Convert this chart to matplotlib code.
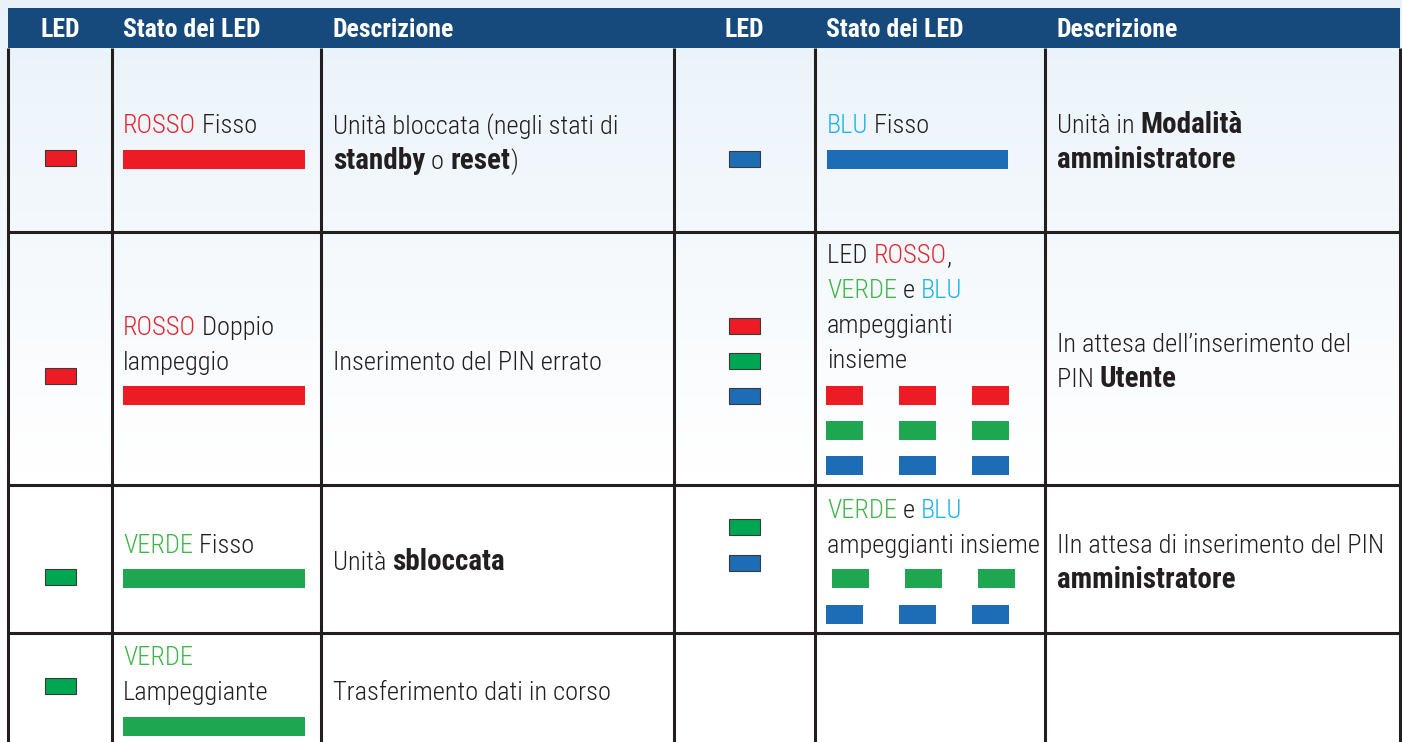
import matplotlib
matplotlib.use("Agg")
import matplotlib.pyplot as plt
from matplotlib import font_manager as fm
from matplotlib.patches import Rectangle
import numpy as np

# ---------------------------------------------------------------------------
# Colours
# ---------------------------------------------------------------------------
RED = "#ed1c24"
GREEN_LED = "#00a651"
GREEN_BAR = "#1fa650"
BLUE = "#1c6db5"
T_RED = "#e2262e"
T_GREEN = "#3fb54a"
T_BLUE = "#1ab3ec"
DARK = "#231f20"
HEADER = "#174a7c"

_names = {f.name for f in fm.fontManager.ttflist}
FONT = next((n for n in ["Roboto Condensed", "Archivo Narrow", "Barlow Condensed",
                         "Liberation Sans Narrow"] if n in _names), "DejaVu Sans")

# ---------------------------------------------------------------------------
# Table content
# ---------------------------------------------------------------------------
HEADERS = ["LED", "Stato dei LED", "Descrizione"]

# LED indicators per row (left table, right table)
LEFT_LEDS = [[RED], [RED], [GREEN_LED], [GREEN_LED]]
RIGHT_LEDS = [[BLUE], [RED, GREEN_LED, BLUE], [GREEN_LED, BLUE], []]

# state text: lines of (text, colour, weight)
LEFT_STATE = [
    [[("ROSSO", T_RED, "light"), (" Fisso", DARK, "light")]],
    [[("ROSSO", T_RED, "light"), (" Doppio", DARK, "light")],
     [("lampeggio", DARK, "light")]],
    [[("VERDE", T_GREEN, "light"), (" Fisso", DARK, "light")]],
    [[("VERDE", T_GREEN, "light")], [("Lampeggiante", DARK, "light")]],
]
RIGHT_STATE = [
    [[("BLU", T_BLUE, "light"), (" Fisso", DARK, "light")]],
    [[("LED ", DARK, "light"), ("ROSSO", T_RED, "light"), (",", DARK, "light")],
     [("VERDE", T_GREEN, "light"), (" e ", DARK, "light"), ("BLU", T_BLUE, "light")],
     [("ampeggianti", DARK, "light")],
     [("insieme", DARK, "light")]],
    [[("VERDE", T_GREEN, "light"), (" e ", DARK, "light"), ("BLU", T_BLUE, "light")],
     [("ampeggianti insieme", DARK, "light")]],
    [],
]

LEFT_DESC = [
    [[("Unità bloccata (negli stati di", DARK, "light")],
     [("standby", DARK, "bold"), (" o ", DARK, "light"), ("reset", DARK, "bold"),
      (")", DARK, "light")]],
    [[("Inserimento del PIN errato", DARK, "light")]],
    [[("Unità ", DARK, "light"), ("sbloccata", DARK, "bold")]],
    [[("Trasferimento dati in corso", DARK, "light")]],
]
RIGHT_DESC = [
    [[("Unità in ", DARK, "light"), ("Modalità", DARK, "bold")],
     [("amministratore", DARK, "bold")]],
    [[("In attesa dell\u2019inserimento del", DARK, "light")],
     [("PIN ", DARK, "light"), ("Utente", DARK, "bold")]],
    [[("IIn attesa di inserimento del PIN", DARK, "light")],
     [("amministratore", DARK, "bold")]],
    [],
]

# bar colours per row; solid = one long bar, otherwise three short ones
LEFT_BARS = [[RED], [RED], [GREEN_BAR], [GREEN_BAR]]
RIGHT_BARS = [[BLUE], [RED, GREEN_BAR, BLUE], [GREEN_BAR, BLUE], []]
LEFT_BAR_SOLID = [True, True, True, True]
RIGHT_BAR_SOLID = [True, False, False, False]

# ---------------------------------------------------------------------------
# Layout (pixels)
# ---------------------------------------------------------------------------
W, H = 1402, 742
V_LINES = [8, 112, 321, 674, 815, 1045, 1400]
H_LINES = [231.5, 485, 633]
HDR_TOP, HDR_BOT = 8, 48

LEFT_X = dict(led=60.5, state=123, desc=333, bar=(123, 305))
RIGHT_X = dict(led=744.5, state=827, desc=1057, bar=(827, 1008))
SHORT_X = [[826, 899, 972], [832, 905, 978]]

LEFT_POS = [
    dict(led=[150], state=133, bars=[150], desc=134),
    dict(led=[368], state=335, bars=[386], desc=370),
    dict(led=[569], state=553, bars=[569], desc=570),
    dict(led=[678], state=665, bars=[717], desc=700),
]
RIGHT_POS = [
    dict(led=[151], state=133, bars=[150], desc=133, shift=[0]),
    dict(led=[318, 353, 388], state=263, bars=[386, 421, 456], desc=352, shift=[0, 0, 0]),
    dict(led=[519, 555], state=518, bars=[569, 605], desc=553, shift=[1, 0]),
    dict(led=[], state=0, bars=[], desc=0, shift=[]),
]
LINE_H = 35
FS = {"light": 19, "bold": 21}
FS_HDR = 18.5

fig = plt.figure(figsize=(W / 100, H / 100), dpi=100)
ax = fig.add_axes([0, 0, 1, 1])
ax.set_xlim(0, W)
ax.set_ylim(H, 0)
ax.axis("off")

# soft bluish background fading to white
top = np.array([0.915, 0.95, 0.98])
grad = np.ones((H, 1, 3))
fade = np.clip(np.arange(H) / 470.0, 0, 1)[:, None]
grad[:, 0, :] = top * (1 - fade) + np.ones(3) * fade
ax.imshow(grad, extent=[0, W, H, 0], aspect="auto", zorder=0)

renderer = fig.canvas.get_renderer()


def draw_line(x, y, segments):
    cur = x
    for text, color, weight in segments:
        t = ax.text(cur, y, text, color=color, fontsize=FS[weight], fontweight=weight,
                    family=FONT, ha="left", va="baseline", zorder=5)
        cur += t.get_window_extent(renderer=renderer).width


def draw_block(x, y0, lines):
    for i, line in enumerate(lines):
        draw_line(x, y0 + i * LINE_H, line)


# header band
ax.add_patch(Rectangle((V_LINES[0], HDR_TOP), V_LINES[-1] - V_LINES[0], HDR_BOT - HDR_TOP,
                       facecolor=HEADER, edgecolor="none", zorder=2))
for off in (0, 3):
    cx = (V_LINES[off] + V_LINES[off + 1]) / 2
    ax.text(cx, 37, HEADERS[0], color="white", fontsize=FS_HDR, fontweight="bold",
            family=FONT, ha="center", va="baseline", zorder=5)
    ax.text(V_LINES[off + 1] + 11, 37, HEADERS[1], color="white", fontsize=FS_HDR,
            fontweight="bold", family=FONT, ha="left", va="baseline", zorder=5)
    ax.text(V_LINES[off + 2] + 12, 37, HEADERS[2], color="white", fontsize=FS_HDR,
            fontweight="bold", family=FONT, ha="left", va="baseline", zorder=5)

# grid
for x in V_LINES:
    ax.plot([x, x], [HDR_BOT, H], color=DARK, lw=2.2, solid_capstyle="butt", zorder=4)
for y in H_LINES:
    ax.plot([V_LINES[0], V_LINES[-1]], [y, y], color=DARK, lw=2.2,
            solid_capstyle="butt", zorder=4)

LED_W, LED_H = 31, 16
BAR_H = 19
SHORT_W = 37


def draw_side(leds, states, descs, bars, solid, pos, xs):
    for r in range(len(leds)):
        p = pos[r]
        for c, y in zip(leds[r], p["led"]):
            ax.add_patch(Rectangle((xs["led"] - LED_W / 2, y), LED_W, LED_H,
                                   facecolor=c, edgecolor="#3a3a3a", lw=0.8, zorder=3))
        if states[r]:
            draw_block(xs["state"], p["state"], states[r])
        if descs[r]:
            draw_block(xs["desc"], p["desc"], descs[r])
        for k, (c, y) in enumerate(zip(bars[r], p["bars"])):
            if solid[r]:
                x0, x1 = xs["bar"]
                ax.add_patch(Rectangle((x0, y), x1 - x0, BAR_H, facecolor=c,
                                       edgecolor="none", zorder=3))
            else:
                for bx in SHORT_X[p["shift"][k]]:
                    ax.add_patch(Rectangle((bx, y), SHORT_W, BAR_H, facecolor=c,
                                           edgecolor="none", zorder=3))


draw_side(LEFT_LEDS, LEFT_STATE, LEFT_DESC, LEFT_BARS, LEFT_BAR_SOLID, LEFT_POS, LEFT_X)
draw_side(RIGHT_LEDS, RIGHT_STATE, RIGHT_DESC, RIGHT_BARS, RIGHT_BAR_SOLID, RIGHT_POS,
          RIGHT_X)

fig.savefig("out.png", dpi=100)
